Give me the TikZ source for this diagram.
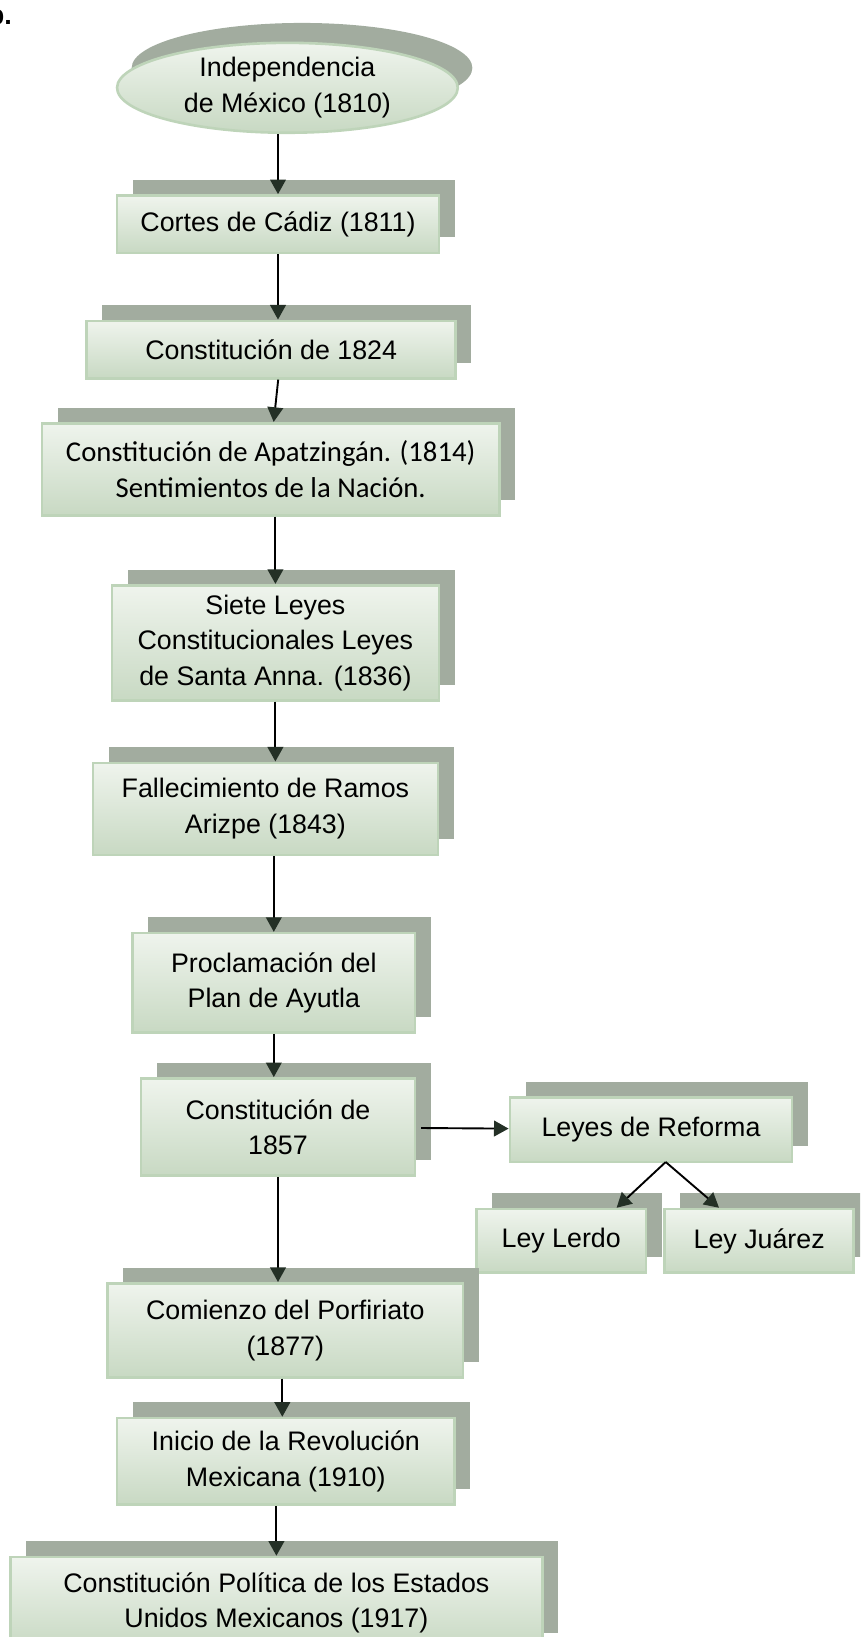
\documentclass[tikz,border=0pt]{standalone}
\usepackage{fontspec}
\setmainfont{Liberation Sans}
\newfontfamily\calibri{Carlito}
\usetikzlibrary{arrows.meta,shapes.geometric,shadows}
\definecolor{boxtop}{HTML}{EFF4ED}
\definecolor{boxbot}{HTML}{C8D9C3}
\definecolor{boxline}{HTML}{BED4B9}
\definecolor{shadowgray}{HTML}{A2AC9F}
\definecolor{tipgreen}{HTML}{243026}

\begin{document}
\begin{tikzpicture}[x=1pt, y=-1pt,
	every node/.style={font=\fontsize{26.8}{35.5}\selectfont, align=center, inner sep=0pt},
	shade/.style={draw=boxline, line width=2.6pt, top color=boxtop, bottom color=boxbot},
	box/.style={shade, rectangle, drop shadow={shadow xshift=15.7pt, shadow yshift=15.7pt, fill=shadowgray, opacity=1}},
	oval/.style={shade, ellipse, drop shadow={shadow xshift=14.6pt, shadow yshift=19.9pt, fill=shadowgray, opacity=1}},
	arr/.style={draw=black, line width=1.9pt, -{Triangle[width=15.7pt, length=14.6pt, color=tipgreen]}}]
			\useasboundingbox (0,0) rectangle (860,1637);
			\clip (0,0) rectangle (860,1637);
			\node[font=\bfseries\fontsize{27}{30}\selectfont, anchor=base east] (mark) at (12,25) {b.};
			\node[oval, minimum width=340.7pt, minimum height=89.9pt] (indep) at (287.4,87.8) {Independencia\\de México (1810)};
			\node[box, minimum width=321.9pt, minimum height=57.5pt] (cortes) at (278,224.2) {Cortes de Cádiz (1811)};
			\node[box, minimum width=368.9pt, minimum height=57.5pt] (c1824) at (271.2,349.6) {Constitución de 1824};
			\node[box, minimum width=457.7pt, minimum height=92pt, font=\calibri\fontsize{28.7}{36.6}\selectfont] (apatz) at (270.7,469.2) {Constitución de Apatzingán. (1814)\\Sentimientos de la Nación.};
			\node[box, minimum width=327.1pt, minimum height=115pt] (siete) at (275.4,642.7) {Siete Leyes\\Constitucionales Leyes\\de Santa Anna. (1836)};
			\node[box, minimum width=344.9pt, minimum height=92pt] (fallec) at (265.4,808.8) {Fallecimiento de Ramos\\Arizpe (1843)};
			\node[box, minimum width=282.2pt, minimum height=99.3pt] (procl) at (273.8,982.8) {Proclamación del\\Plan de Ayutla};
			\node[box, minimum width=273.8pt, minimum height=97.2pt] (c1857) at (278,1127) {Constitución de\\1857};
			\node[box, minimum width=282.2pt, minimum height=64.8pt] (reforma) at (651,1129.6) {Leyes de Reforma};
			\node[box, minimum width=169.3pt, minimum height=63.7pt] (lerdo) at (561.2,1240.9) {Ley Lerdo};
			\node[box, minimum width=189.1pt, minimum height=63.7pt] (juarez) at (759.2,1240.9) {Ley Juárez};
			\node[box, minimum width=355.3pt, minimum height=94pt] (porfir) at (285.3,1330.3) {Comienzo del Porfiriato\\(1877)};
			\node[box, minimum width=337.5pt, minimum height=86.7pt] (revol) at (285.8,1461.4) {Inicio de la Revolución\\Mexicana (1910)};
			\node[box, minimum width=532pt, minimum height=92pt] (c1917) at (276.4,1603) {Constitución Política de los Estados\\Unidos Mexicanos (1917)};
			\coordinate (split) at (665.7,1162);
			
			\path (indep.south -| cortes.north) edge[arr] (cortes.north);
			\path (cortes.south) edge[arr] (cortes.south |- c1824.north);
			\path ([xshift=7pt]c1824.south) edge[arr] ([xshift=3pt]apatz.north);
			\path (apatz.south -| siete.north) edge[arr] (siete.north);
			\path (siete.south) edge[arr] (siete.south |- fallec.north);
			\path (fallec.south -| procl.north) edge[arr] (procl.north);
			\path (procl.south) edge[arr] (procl.south |- c1857.north);
			\path (c1857) edge[arr, shorten <=5pt] (reforma);
			\path (split) edge[arr] ([xshift=55.4pt]lerdo.north);
			\path (split) edge[arr] ([xshift=-40.2pt]juarez.north);
			\path (c1857.south) edge[arr] (c1857.south |- porfir.north);
			\path ([xshift=-3pt]porfir.south) edge[arr] ([xshift=-3pt]porfir.south |- revol.north);
			\path (revol.south -| c1917.north) edge[arr] (c1917.north);
			\end{tikzpicture}
\end{document}
